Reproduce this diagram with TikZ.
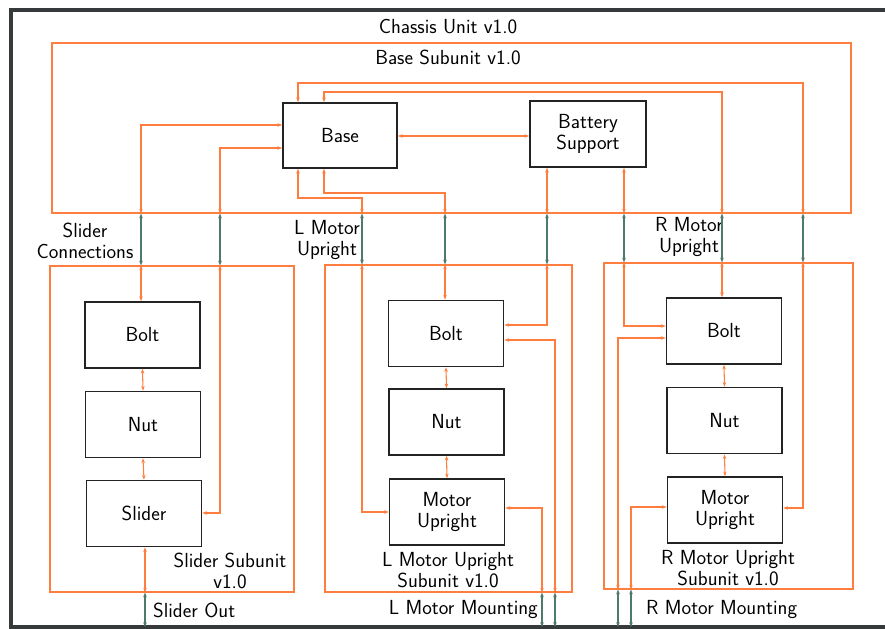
\documentclass[tikz,border=0pt]{standalone}
\usetikzlibrary{arrows.meta}
\definecolor{wireor}{RGB}{255,125,62}
\definecolor{wiregr}{RGB}{78,122,108}
\definecolor{boxln}{RGB}{35,35,35}
\definecolor{framecol}{RGB}{55,58,58}
\begin{document}
\begin{tikzpicture}[x=0.03cm,y=-0.03cm,
  font=\sffamily\fontsize{17.4}{18}\selectfont,
  part/.style={draw=boxln,line width=1.4pt,rectangle,minimum width=3.45cm,minimum height=1.98cm,inner sep=0pt,align=center},
  unitbox/.style={draw=wireor,line width=0.9pt,rectangle,inner sep=0pt},
  owire/.style={draw=wireor,line width=0.9pt,{Stealth[length=4pt,width=3pt]}-{Stealth[length=4pt,width=3pt]}},
  gwire/.style={draw=wiregr,line width=0.9pt,{Stealth[length=4pt,width=3pt]}-{Stealth[length=4pt,width=3pt]}},
  lbl/.style={align=center,inner sep=0pt}]
\useasboundingbox (0,0) rectangle (885,629);

% outer frame of the chassis unit
\draw[framecol,line width=3.2pt] (900,10) -- (11,10) -- (11,627) -- (900,627);
\coordinate (floor) at (450,627);

% subunit boundaries
\node[unitbox,minimum width=23.97cm,minimum height=5.1cm] (basesub) at (451.5,128) {};
\node[unitbox,minimum width=7.32cm,minimum height=9.78cm] (slidsub) at (172,429) {};
\node[unitbox,minimum width=7.41cm,minimum height=9.81cm] (lsub) at (448.5,428.5) {};
\node[unitbox,minimum width=7.47cm,minimum height=9.78cm] (rsub) at (728.5,426) {};

% parts
\node[part,minimum width=3.42cm,minimum height=1.95cm] (base) at (340,135.5) {Base};
\node[part,minimum width=3.48cm] (batt) at (588,134) {Battery\\Support};

\node[part] (sbolt) at (142.5,335) {Bolt};
\node[part] (snut) at (143,424.5) {Nut};
\node[part] (sslid) at (144,513.5) {Slider};

\node[part] (lbolt) at (446,333.5) {Bolt};
\node[part] (lnut) at (446.5,422) {Nut};
\node[part] (lmu) at (447,512) {Motor\\Upright};

\node[part] (rbolt) at (724,331) {Bolt};
\node[part] (rnut) at (724.5,420.5) {Nut};
\node[part] (rmu) at (725,510) {Motor\\Upright};

% labels
\node[lbl] (tchassis) at (448,27) {Chassis Unit v1.0};
\node[lbl] (tbase) at (448,57) {Base Subunit v1.0};
\node[lbl] (tslcon) at (85,241) {Slider\\Connections};
\node[lbl] (tlmu) at (327,240) {L Motor\\Upright};
\node[lbl] (trmu) at (689,237) {R Motor\\Upright};
\node[lbl] (tslsub) at (230,571) {Slider Subunit\\v1.0};
\node[lbl] (tlsub) at (448,570) {L Motor Upright\\Subunit v1.0};
\node[lbl] (trsub) at (728,568) {R Motor Upright\\Subunit v1.0};
\node[lbl,anchor=west] (tslout) at (153,610) {Slider Out};
\node[lbl,anchor=east] (tlmount) at (538,610) {L Motor Mounting};
\node[lbl,anchor=west] (trmount) at (646,610) {R Motor Mounting};

% chains inside the subunits
\draw[owire] (sbolt.south) -- (snut.north);
\draw[owire] (snut.south) -- (sslid.north);
\draw[owire] (lbolt.south) -- (lnut.north);
\draw[owire] (lnut.south) -- (lmu.north);
\draw[owire] (rbolt.south) -- (rnut.north);
\draw[owire] (rnut.south) -- (rmu.north);

% base <-> battery support
\draw[owire] (base.east |- 0,136) -- (batt.west |- 0,136);

% base <-> slider bolt
\draw[owire] (base.west |- 0,125) -| (basesub.south -| 141,0);
\draw[gwire] (basesub.south -| 141,0) -- (slidsub.north -| 141,0);
\draw[owire] (slidsub.north -| 141,0) -- (sbolt.north -| 141,0);

% base <-> slider
\draw[owire] (base.west |- 0,148) -| (basesub.south -| 220,0);
\draw[gwire] (basesub.south -| 220,0) -- (slidsub.north -| 220,0);
\draw[owire] (slidsub.north -| 220,0) |- (sslid.east |- 0,513);

% slider -> slider out
\draw[owire] (sslid.south -| 145,0) -- (slidsub.south -| 145,0);
\draw[gwire] (slidsub.south -| 145,0) -- (floor -| 145,0);

% base <-> L motor upright
\draw[owire] (base.south -| 298,0) |- (362,198) -- (basesub.south -| 362,0);
\draw[gwire] (basesub.south -| 362,0) -- (lsub.north -| 362,0);
\draw[owire] (lsub.north -| 362,0) |- (lmu.west |- 0,512);

% base <-> L bolt
\draw[owire] (base.south -| 324,0) |- (445,193) -- (basesub.south -| 445,0);
\draw[gwire] (basesub.south -| 445,0) -- (lsub.north -| 445,0);
\draw[owire] (lsub.north -| 445,0) -- (lbolt.north -| 445,0);

% base <-> R motor upright
\draw[owire] (base.north -| 298,0) |- (803,83) -- (basesub.south -| 803,0);
\draw[gwire] (basesub.south -| 803,0) -- (rsub.north -| 803,0);
\draw[owire] (rsub.north -| 803,0) |- (rmu.east |- 0,508);

% base <-> R bolt
\draw[owire] (base.north -| 324,0) |- (722,92) -- (basesub.south -| 722,0);
\draw[gwire] (basesub.south -| 722,0) -- (rsub.north -| 722,0);
\draw[owire] (rsub.north -| 722,0) -- (rbolt.north -| 722,0);

% battery support <-> L bolt
\draw[owire] (batt.south -| 547,0) -- (basesub.south -| 547,0);
\draw[gwire] (basesub.south -| 547,0) -- (lsub.north -| 547,0);
\draw[owire] (lsub.north -| 547,0) |- (lbolt.east |- 0,325);

% battery support <-> R bolt
\draw[owire] (batt.south -| 624,0) -- (basesub.south -| 624,0);
\draw[gwire] (basesub.south -| 624,0) -- (rsub.north -| 624,0);
\draw[owire] (rsub.north -| 624,0) |- (rbolt.west |- 0,326);

% L motor mounting
\draw[owire] (lbolt.east |- 0,340) -| (lsub.south -| 555,0);
\draw[gwire] (lsub.south -| 555,0) -- (floor -| 555,0);
\draw[owire] (lmu.east |- 0,508) -| (lsub.south -| 542,0);
\draw[gwire] (lsub.south -| 542,0) -- (floor -| 542,0);

% R motor mounting
\draw[owire] (rbolt.west |- 0,338) -| (rsub.south -| 618,0);
\draw[gwire] (rsub.south -| 618,0) -- (floor -| 618,0);
\draw[owire] (rmu.west |- 0,507) -| (rsub.south -| 631,0);
\draw[gwire] (rsub.south -| 631,0) -- (floor -| 631,0);
\end{tikzpicture}
\end{document}
